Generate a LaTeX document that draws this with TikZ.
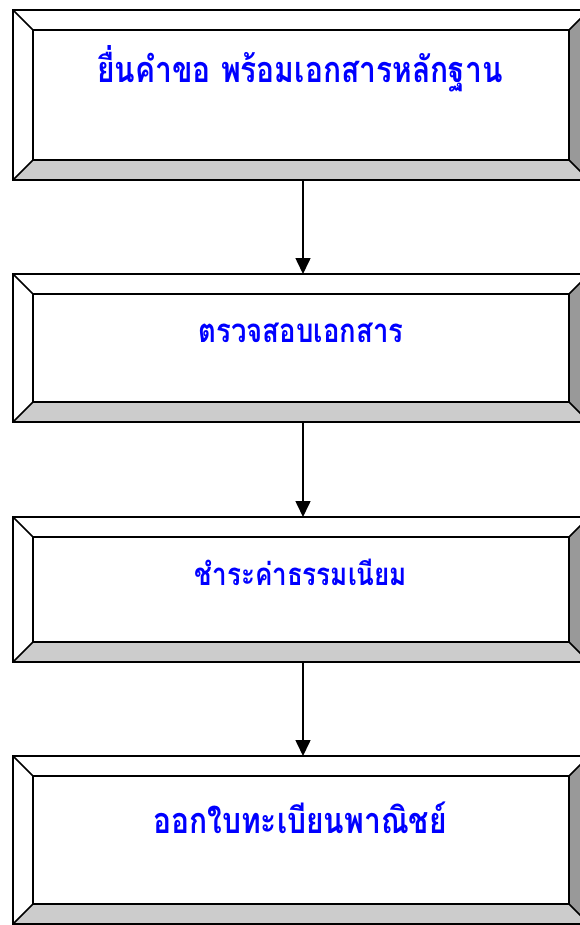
\documentclass[tikz,border=0pt]{standalone}
\usepackage{fontspec}
\newfontfamily\thaifont[Script=Thai]{Loma}
\usetikzlibrary{positioning,calc,arrows.meta}

\definecolor{bevelbottom}{HTML}{CCCCCC}
\definecolor{bevelright}{HTML}{999999}
\definecolor{steptext}{HTML}{0000FF}

% bevelled frame round a stage node
\newcommand{\bevel}[1]{
  \fill[white] (#1.north west) -- (#1.south west) -- ($(#1.south west)+(20pt,20pt)$) -- ($(#1.north west)+(20pt,-20pt)$) -- cycle;
  \fill[bevelbottom] (#1.south west) -- (#1.south east) -- ($(#1.south east)+(-20pt,20pt)$) -- ($(#1.south west)+(20pt,20pt)$) -- cycle;
  \fill[bevelright] (#1.north east) -- (#1.south east) -- ($(#1.south east)+(-20pt,20pt)$) -- ($(#1.north east)+(-20pt,-20pt)$) -- cycle;
  \draw[line width=1.6pt,line join=miter] (#1.north west) rectangle (#1.south east);
  \draw[line width=1.6pt] ($(#1.north west)+(20pt,-20pt)$) rectangle ($(#1.south east)+(-20pt,20pt)$);
  \draw[line width=1.6pt] (#1.north west) -- ($(#1.north west)+(20pt,-20pt)$)
    (#1.south west) -- ($(#1.south west)+(20pt,20pt)$)
    (#1.north east) -- ($(#1.north east)+(-20pt,-20pt)$)
    (#1.south east) -- ($(#1.south east)+(-20pt,20pt)$);
}
% taller lettering, as in the original
\newcommand{\tall}[1]{\scalebox{1}[1.2]{#1}}

\begin{document}
\begin{tikzpicture}[stage/.style={rectangle,minimum width=576pt,inner sep=0pt,outer sep=0pt},
  label/.style={anchor=base,text=steptext,inner sep=0pt},
  link/.style={line width=1.6pt,-{Triangle[length=16pt,width=15pt]}}]
        \useasboundingbox (0pt,0pt) rectangle (580pt,-925pt);

        \node[stage,minimum height=170pt] (request) at (301pt,-95pt) {};
        \node[stage,minimum height=148pt] (check) [below=94pt of request] {};
        \node[stage,minimum height=145pt] (fee) [below=95pt of check] {};
        \node[stage,minimum height=168pt] (issue) [below=94pt of fee] {};

        \bevel{request}
        \bevel{check}
        \bevel{fee}
        \bevel{issue}

        \node[label,font=\thaifont\bfseries\fontsize{30}{34}\selectfont] (request-text) at ($(request.north)+(-1pt,-73pt)$) {\tall{ยื่นคำขอ พร้อมเอกสารหลักฐาน}};
        \node[label,font=\thaifont\bfseries\fontsize{27.5}{31}\selectfont] (check-text) at ($(check.north)+(0pt,-68pt)$) {\tall{ตรวจสอบเอกสาร}};
        \node[label,font=\thaifont\bfseries\fontsize{26}{30}\selectfont] (fee-text) at ($(fee.north)+(0pt,-68pt)$) {\tall{ชำระค่าธรรมเนียม}};
        \node[label,font=\thaifont\bfseries\fontsize{30}{34}\selectfont] (issue-text) at ($(issue.north)+(-1pt,-77pt)$) {\tall{ออกใบทะเบียนพาณิชย์}};

        \draw[link] ($(request.south)+(2pt,0)$) -- ($(check.north)+(2pt,0)$);
        \draw[link] ($(check.south)+(2pt,0)$) -- ($(fee.north)+(2pt,0)$);
        \draw[link] ($(fee.south)+(2pt,0)$) -- ($(issue.north)+(2pt,0)$);
    \end{tikzpicture}
\end{document}
